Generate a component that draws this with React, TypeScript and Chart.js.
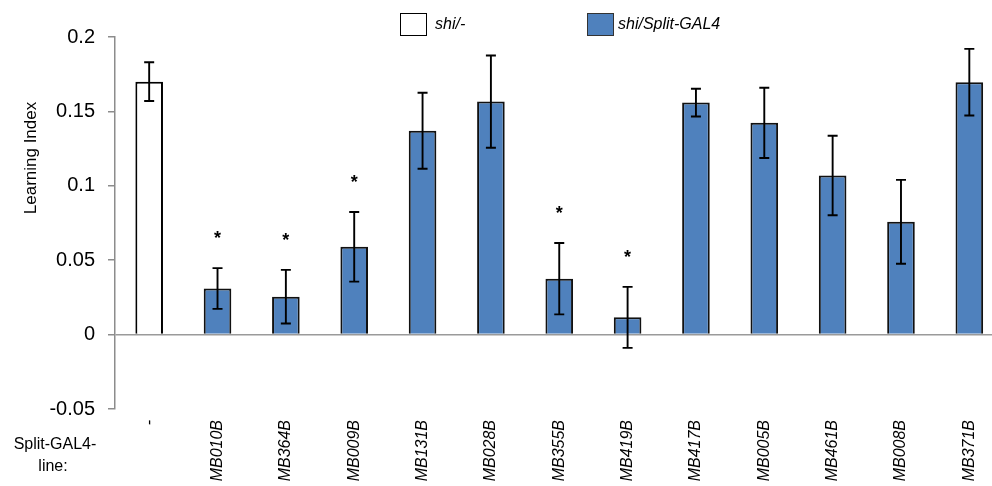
import React, { useEffect, useRef } from "react";
import { Chart, registerables } from "chart.js";

Chart.register(...registerables);

const categories = ["-", "MB010B", "MB364B", "MB009B", "MB131B", "MB028B", "MB355B", "MB419B", "MB417B", "MB005B", "MB461B", "MB008B", "MB371B"];
const controlValues = [0.170, null, null, null, null, null, null, null, null, null, null, null, null];
const splitValues = [null, 0.031, 0.0255, 0.059, 0.137, 0.1566, 0.0376, 0.0116, 0.1559, 0.1423, 0.1069, 0.0758, 0.1696];
const errors = [0.013, 0.0137, 0.018, 0.0234, 0.0255, 0.031, 0.024, 0.0205, 0.0093, 0.0236, 0.0267, 0.0282, 0.0224];
const significant = [false, true, true, true, false, false, true, true, false, false, false, false, false];
const legendLabels = ["shi/-", "shi/Split-GAL4"];
const yTitle = "Learning Index";
const rowLabel = ["Split-GAL4-", "line:"];

const FONT = '"Liberation Sans", Arial, sans-serif';
const BLUE = "#4F81BD";

const overlay = {
  id: "overlay",
  afterDatasetsDraw(chart: any) {
    const ctx = chart.ctx;
    const y = chart.scales.y;
    ctx.save();
    ctx.strokeStyle = "#000";
    ctx.lineWidth = 1.9;
    ctx.fillStyle = "#000";
    categories.forEach((_, i) => {
      const ds = i === 0 ? 0 : 1;
      const el = chart.getDatasetMeta(ds).data[i];
      if (!el) return;
      const v = (i === 0 ? controlValues[i] : splitValues[i]) as number;
      const x = el.x;
      const top = y.getPixelForValue(v + errors[i]);
      const bot = y.getPixelForValue(v - errors[i]);
      ctx.beginPath();
      ctx.moveTo(x, top);
      ctx.lineTo(x, bot);
      ctx.moveTo(x - 5, top);
      ctx.lineTo(x + 5, top);
      ctx.moveTo(x - 5, bot);
      ctx.lineTo(x + 5, bot);
      ctx.stroke();
      if (significant[i]) {
        ctx.font = `bold 18px ${FONT}`;
        ctx.textAlign = "center";
        ctx.textBaseline = "middle";
        ctx.fillText("*", x, top - 29);
      }
    });
    ctx.restore();
  },
  afterDraw(chart: any) {
    const ctx = chart.ctx;
    ctx.save();
    // legend
    ctx.lineWidth = 1;
    ctx.strokeStyle = "#000";
    ctx.fillStyle = "#fff";
    ctx.fillRect(400.5, 13.5, 26, 22);
    ctx.strokeRect(400.5, 13.5, 26, 22);
    ctx.fillStyle = BLUE;
    ctx.fillRect(587.5, 13.5, 26, 22);
    ctx.strokeStyle = "#333";
    ctx.strokeRect(587.5, 13.5, 26, 22);
    ctx.fillStyle = "#000";
    ctx.font = `italic 16px ${FONT}`;
    ctx.textAlign = "left";
    ctx.textBaseline = "middle";
    ctx.fillText(legendLabels[0], 435, 24.5);
    ctx.fillText(legendLabels[1], 618, 24.5);
    // y title
    ctx.save();
    ctx.translate(31, 158);
    ctx.rotate(-Math.PI / 2);
    ctx.font = `17px ${FONT}`;
    ctx.textAlign = "center";
    ctx.textBaseline = "middle";
    ctx.fillText(yTitle, 0, 0);
    ctx.restore();
    // row label
    ctx.font = `16px ${FONT}`;
    ctx.textAlign = "center";
    ctx.textBaseline = "middle";
    ctx.fillText(rowLabel[0], 55, 445);
    ctx.fillText(rowLabel[1], 53, 467);
    ctx.restore();
  },
};

export default function App() {
  const ref = useRef<HTMLCanvasElement>(null);
  useEffect(() => {
    if (!ref.current) return;
    const chart = new Chart(ref.current, {
      type: "bar",
      data: {
        labels: categories,
        datasets: [
          {
            label: legendLabels[0],
            data: controlValues as any,
            backgroundColor: "#ffffff",
            borderColor: "#000",
            borderWidth: 2,
            barPercentage: 0.404,
            categoryPercentage: 1,
          },
          {
            label: legendLabels[1],
            data: splitValues as any,
            backgroundColor: BLUE,
            borderColor: "#111",
            borderWidth: 2,
            barPercentage: 0.404,
            categoryPercentage: 1,
          },
        ],
      },
      options: {
        responsive: false,
        animation: false,
        devicePixelRatio: 1,
        layout: { padding: { top: 37, right: 6.5, left: 0, bottom: 0 } },
        plugins: { legend: { display: false }, tooltip: { enabled: false } },
        scales: {
          x: {
            stacked: true,
            grid: { display: false, drawTicks: false },
            border: { display: false },
            ticks: {
              maxRotation: 90,
              minRotation: 90,
              padding: 11,
              color: "#000",
              font: { family: FONT, size: 16, style: "italic" },
            },
            afterFit: (s: any) => {
              s.height = 77;
            },
          },
          y: {
            stacked: true,
            min: -0.05,
            max: 0.2,
            ticks: {
              stepSize: 0.05,
              padding: 13,
              color: "#000",
              font: { family: FONT, size: 20 },
              callback: (v: any) => String(Number(Number(v).toFixed(2))),
            },
            grid: {
              drawOnChartArea: true,
              drawTicks: true,
              tickLength: 7,
              tickColor: "#8c8c8c",
              lineWidth: 1.5,
              color: (c: any) => (c.tick && Math.abs(c.tick.value) < 1e-9 ? "#9a9a9a" : "rgba(0,0,0,0)"),
            },
            border: { display: true, color: "#8c8c8c", width: 1.5 },
            afterFit: (s: any) => {
              s.width = 115;
            },
          },
        },
      },
      plugins: [overlay],
    });
    return () => chart.destroy();
  }, []);
  return (
    <div style={{ position: "fixed", left: 0, top: 0, width: 992, height: 486, overflow: "hidden", background: "#fff" }}>
      <canvas ref={ref} width={1010} height={486} style={{ width: 1010, height: 486, display: "block" }} />
    </div>
  );
}
